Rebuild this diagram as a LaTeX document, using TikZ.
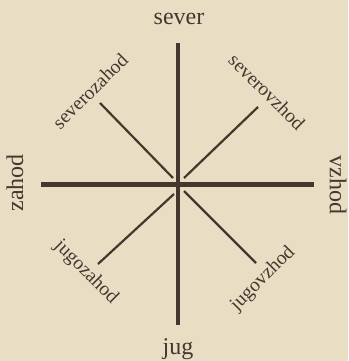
\documentclass[tikz,border=0pt]{standalone}
\usepackage{fontspec}
\setmainfont{Liberation Serif}
\definecolor{paper}{RGB}{232,222,196}
\definecolor{ink}{RGB}{68,56,46}
\begin{document}
\begin{tikzpicture}[x=1pt,y=-1pt,
  axis/.style={draw=ink,line width=4.2pt},
  diag/.style={draw=ink,line width=2.2pt},
  mainlbl/.style={text=ink,inner sep=0pt,font=\fontsize{24}{28}\selectfont},
  diaglbl/.style={text=ink,inner sep=0pt,font=\fontsize{19.5}{23}\selectfont}]
\fill[paper] (0,0) rectangle (348,361);
\useasboundingbox (0,0) rectangle (348,361);
\coordinate (c) at (178,184.5);
\coordinate (n) at (178,43);
\coordinate (s) at (178,325);
\coordinate (w) at (41,184.5);
\coordinate (e) at (314,184.5);
\coordinate (nw1) at (100,103);
\coordinate (nw2) at (173,178);
\coordinate (ne1) at (258,107);
\coordinate (ne2) at (184,178);
\coordinate (sw1) at (98,264);
\coordinate (sw2) at (174,194);
\coordinate (se1) at (256,263);
\coordinate (se2) at (184,191);
\draw[axis] (n) -- (s);
\draw[axis] (w) -- (e);
\draw[diag] (nw1) -- (nw2);
\draw[diag] (ne1) -- (ne2);
\draw[diag] (sw1) -- (sw2);
\draw[diag] (se1) -- (se2);
\node[mainlbl] (ls) at (179,19) {sever};
\node[mainlbl] (lj) at (178,349) {jug};
\node[mainlbl,rotate=90] (lz) at (15,183) {zahod};
\node[mainlbl,rotate=-90] (lv) at (338,185) {vzhod};
\node[diaglbl,rotate=45] (lnw) at (90,91) {severozahod};
\node[diaglbl,rotate=-45] (lne) at (267,92) {severovzhod};
\node[diaglbl,rotate=-45] (lsw) at (86,272) {jugozahod};
\node[diaglbl,rotate=45] (lse) at (263,279) {jugovzhod};
\end{tikzpicture}
\end{document}
